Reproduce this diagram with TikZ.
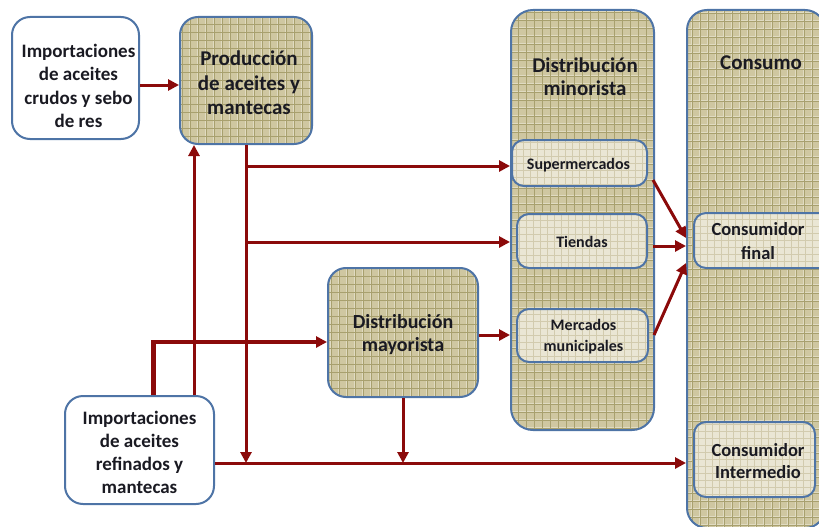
\documentclass[tikz,border=0pt]{standalone}
\usepackage{fontspec}
\setmainfont{Carlito}
\usetikzlibrary{arrows.meta}

\definecolor{edge}{HTML}{4E74A6}
\definecolor{flow}{HTML}{8B0A0A}
\definecolor{khaki}{HTML}{CFC7A1}
\definecolor{khakiline}{HTML}{A8A06E}
\definecolor{khakilight}{HTML}{E0DBC2}
\definecolor{pale}{HTML}{EAE6D4}
\definecolor{paleline}{HTML}{D2CBAE}
\definecolor{ink}{HTML}{1A1A22}

\tikzset{
  box/.style={draw=edge, line width=2pt, rounded corners=18pt, inner sep=0pt},
  plainbox/.style={box, fill=white},
  weave/.style={box, path picture={
      \fill[khaki] (path picture bounding box.south west) rectangle (path picture bounding box.north east);
      \draw[khakilight, line width=1.4pt, step=8pt, shift={(4pt,4pt)}]
        (path picture bounding box.south west) grid (path picture bounding box.north east);
      \draw[khakiline, line width=0.5pt, step=8pt]
        (path picture bounding box.south west) grid (path picture bounding box.north east);
    }},
  paleweave/.style={box, rounded corners=12pt, path picture={
      \fill[pale] (path picture bounding box.south west) rectangle (path picture bounding box.north east);
      \draw[white, line width=1pt, step=7pt, shift={(3.5pt,3.5pt)}]
        (path picture bounding box.south west) grid (path picture bounding box.north east);
      \draw[paleline, line width=0.5pt, step=7pt]
        (path picture bounding box.south west) grid (path picture bounding box.north east);
    }},
  txt/.style={align=center, text=ink, inner sep=0pt},
  arr/.style={draw=flow, line width=3pt, -{Triangle[length=11pt,width=11pt]}},
  wire/.style={draw=flow, line width=5pt},
}

\begin{document}
\begin{tikzpicture}[x=1pt, y=-1pt]
\useasboundingbox (0,0) rectangle (819,527);
\clip (0,0) rectangle (819,527);

% columns
\node[weave, rounded corners=22pt, minimum width=143pt, minimum height=420pt] (min) at (582.5,220) {};
\node[txt, font=\bfseries\fontsize{21}{23.5}\selectfont] (minT) at (585,76.5) {Distribución\\minorista};
\node[weave, rounded corners=20pt, minimum width=138pt, minimum height=518pt] (cons) at (756,269) {};
\node[txt, font=\bfseries\fontsize{21}{24}\selectfont] (consT) at (761,63) {Consumo};

% retail outlets
\node[paleweave, minimum width=135pt, minimum height=46pt] (sup) at (579.5,163) {};
\node[txt, font=\bfseries\fontsize{16}{19}\selectfont] (supT) at (578.5,165) {Supermercados};
\node[paleweave, minimum width=130pt, minimum height=54pt] (tie) at (582,241) {};
\node[txt, font=\bfseries\fontsize{16}{19}\selectfont] (tieT) at (582,242) {Tiendas};
\node[paleweave, minimum width=131pt, minimum height=53pt] (mer) at (582.5,335.5) {};
\node[txt, font=\bfseries\fontsize{16}{21}\selectfont] (merT) at (583.5,337) {Mercados\\municipales};

% consumers
\node[paleweave, minimum width=138pt, minimum height=55pt] (cfin) at (763,240.5) {};
\node[txt, font=\bfseries\fontsize{18.5}{24.5}\selectfont] (cfinT) at (758,241) {Consumidor\\final};
\node[paleweave, minimum width=121pt, minimum height=75pt] (cint) at (754.5,459.5) {};
\node[txt, font=\bfseries\fontsize{18.5}{22}\selectfont] (cintT) at (758,461) {Consumidor\\Intermedio};

% sources and stages
\node[plainbox, minimum width=127pt, minimum height=122pt] (impC) at (75.5,78) {};
\node[txt, font=\bfseries\fontsize{19}{23.4}\selectfont] (impCT) at (78.5,86) {Importaciones\\de aceites\\crudos y sebo\\de res};
\node[weave, minimum width=132pt, minimum height=127pt] (prod) at (246,80.5) {};
\node[txt, font=\bfseries\fontsize{21}{24.5}\selectfont] (prodT) at (249,83) {Producción\\de aceites y\\mantecas};
\node[weave, minimum width=150pt, minimum height=129pt] (may) at (403,332.5) {};
\node[txt, font=\bfseries\fontsize{20}{23.5}\selectfont] (mayT) at (403,334.5) {Distribución\\mayorista};
\node[plainbox, minimum width=149pt, minimum height=108pt] (impR) at (139.5,450) {};
\node[txt, font=\bfseries\fontsize{19}{23}\selectfont] (impRT) at (139.5,452) {Importaciones\\de aceites\\refinados y\\mantecas};

% junction points
\coordinate (busP) at (246,463);
\coordinate (busM) at (403,463);
\coordinate (jS) at (246,166);
\coordinate (jT) at (246,242);
\coordinate (xR) at (194,0);
\coordinate (xM) at (153,0);
\coordinate (bend) at (153,342);

% flows
\draw[arr] (impC.east |- 0,85) -- (prod.west |- 0,85);
\draw[arr] (prod.south) -- (busP);
\draw[arr] (jS) -- (min.west |- jS);
\draw[arr] (jT) -- (min.west |- jT);
\draw[arr] (impR.north -| xR) -- (prod.south -| xR);
\draw[wire] (impR.north -| xM) -- ([yshift=-1.5pt]bend);
\draw[arr, line width=3.5pt] (impR.north -| xM) |- (may.west |- bend);
\draw[arr] (may.east |- 0,335) -- (min.west |- 0,335);
\draw[arr] (may.south) -- (busM);
\draw[arr] (impR.east |- 0,463) -- (cons.west |- 0,463);

\draw[arr] (sup.east |- 0,180) ++(5,0) -- (cons.west |- 0,238);
\draw[arr] (tie.east |- 0,246) ++(5,0) -- (cons.west |- 0,246);
\draw[arr] (mer.east |- 0,335) ++(5,0) -- (cons.west |- 0,263);
\end{tikzpicture}
\end{document}
